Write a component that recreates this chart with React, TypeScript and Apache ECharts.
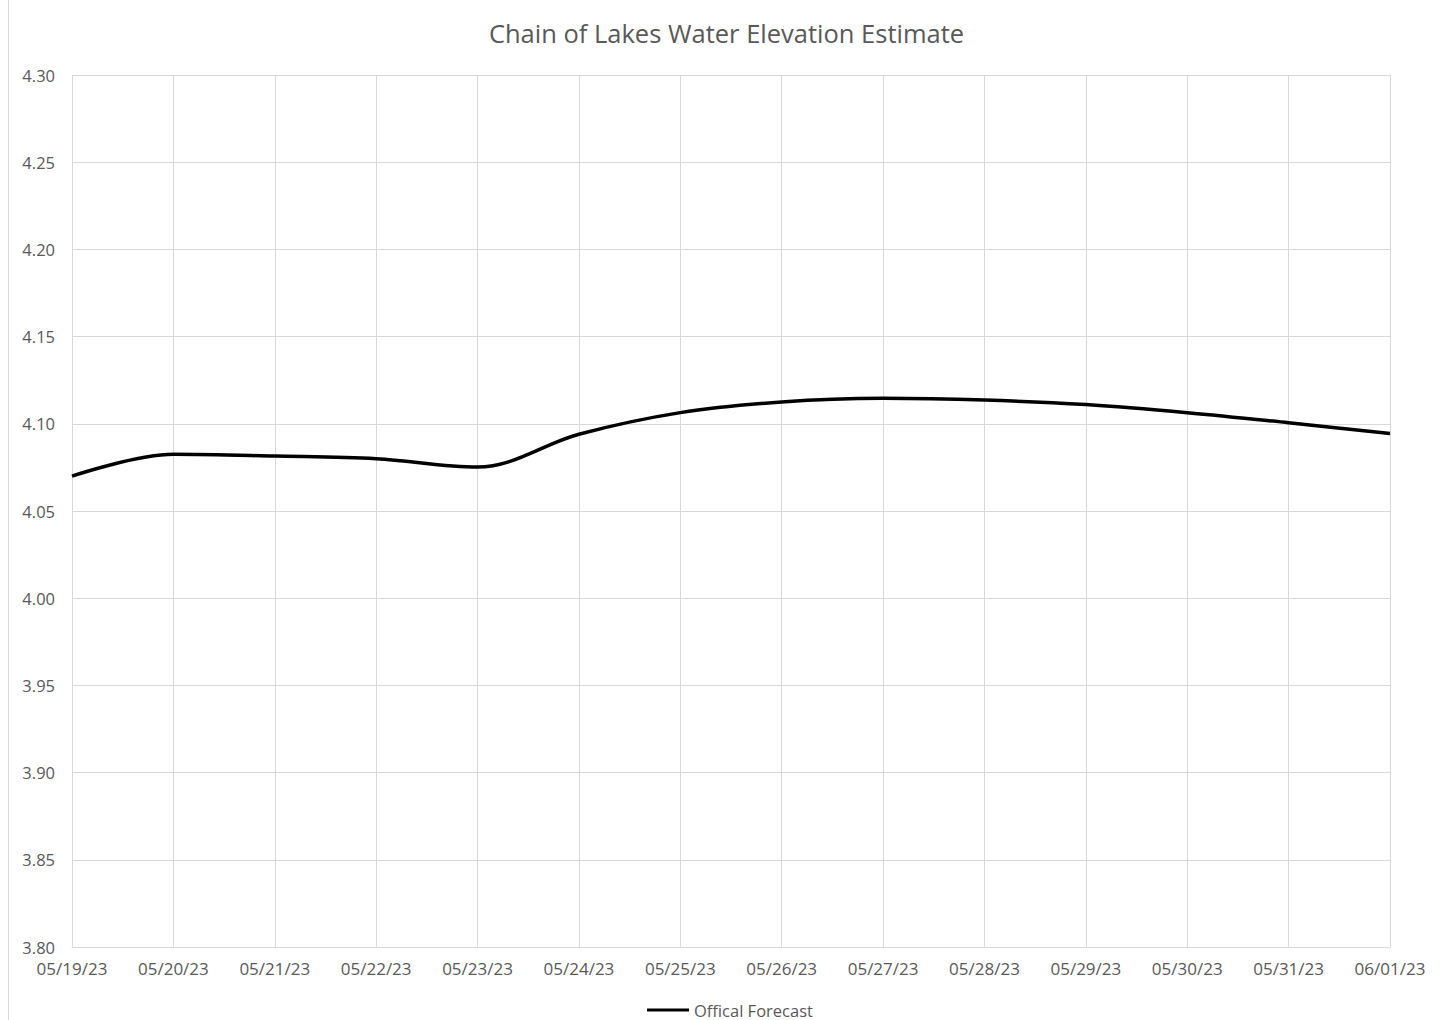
import React, { useEffect, useRef } from "react";
import * as echarts from "echarts";

const categories = [
  "05/19/23", "05/20/23", "05/21/23", "05/22/23", "05/23/23", "05/24/23", "05/25/23",
  "05/26/23", "05/27/23", "05/28/23", "05/29/23", "05/30/23", "05/31/23", "06/01/23",
];
const forecastValues = [
  4.070, 4.0825, 4.0815, 4.0800, 4.0752, 4.0940, 4.1064,
  4.1125, 4.1146, 4.1136, 4.1110, 4.1064, 4.1006, 4.0944,
];
const seriesName = "Offical Forecast";
const titleText = "Chain of Lakes Water Elevation Estimate";

const FONT = "'Open Sans', 'Noto Sans', sans-serif";

export default function App() {
  const ref = useRef<HTMLDivElement>(null);
  useEffect(() => {
    document.body.style.margin = "0";
    const chart = echarts.init(ref.current!, null, { renderer: "svg" });
    chart.setOption({
      animation: false,
      backgroundColor: "#ffffff",
      title: {
        text: titleText,
        left: "center",
        top: 15,
        textStyle: { color: "#595959", fontSize: 25.5, fontWeight: "normal", fontFamily: FONT },
      },
      graphic: [
        {
          type: "line",
          shape: { x1: 8.5, y1: 0, x2: 8.5, y2: 1020 },
          style: { stroke: "#d9d9d9", lineWidth: 1 },
        },
      ],
      legend: {
        top: 1001,
        left: 647,
        padding: 0,
        itemWidth: 42,
        itemHeight: 3,
        data: [{ name: seriesName, icon: "rect", itemStyle: { color: "#000000" } }],
        textStyle: { color: "#595959", fontSize: 16.5, lineHeight: 18, fontFamily: FONT },
      },
      grid: { left: 72, right: 63, top: 75, bottom: 73, containLabel: false },
      xAxis: {
        type: "category",
        data: categories,
        boundaryGap: false,
        axisLine: { show: true, lineStyle: { color: "#d9d9d9", width: 1 } },
        axisTick: { show: false },
        axisLabel: {
          color: "#595959",
          fontSize: 17,
          fontFamily: FONT,
          margin: 13,
          interval: 0,
        },
        splitLine: { show: true, lineStyle: { color: "#d9d9d9", width: 1 } },
      },
      yAxis: {
        type: "value",
        min: 3.8,
        max: 4.3,
        interval: 0.05,
        axisLine: { show: false },
        axisTick: { show: false },
        axisLabel: {
          color: "#595959",
          fontSize: 16.5,
          fontFamily: FONT,
          margin: 17,
          formatter: (v: number) => v.toFixed(2),
        },
        splitLine: { show: true, lineStyle: { color: "#d9d9d9", width: 1 } },
      },
      series: [
        {
          name: seriesName,
          type: "line",
          data: forecastValues,
          smooth: 0.35,
          symbol: "none",
          lineStyle: { color: "#000000", width: 3.5 },
          itemStyle: { color: "#000000" },
        },
      ],
    });
    return () => chart.dispose();
  }, []);
  return <div ref={ref} style={{ width: 1453, height: 1020 }} />;
}
